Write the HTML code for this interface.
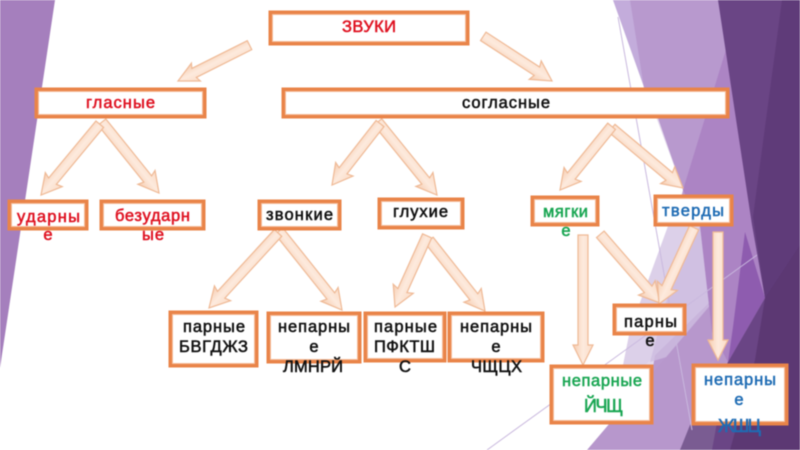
<!DOCTYPE html>
<html lang="ru">
<head>
<meta charset="utf-8">
<title>Звуки</title>
<style>
html,body{margin:0;padding:0;background:#fff;width:800px;height:450px;overflow:hidden}
svg{display:block;filter:blur(.4px)}
text{font-family:"Liberation Sans",sans-serif;font-weight:normal;text-anchor:middle;font-size:16px}
.a{fill:url(#ag);stroke:#efb995;stroke-width:1.2}
.o{fill:#fff;stroke:#e98449;stroke-width:4}
.i{fill:none;stroke:#f5bd9b;stroke-width:1}
.r{fill:#df1322;stroke:#df1322}.g{fill:#1aa653;stroke:#1aa653}.b{fill:#1f6cb4;stroke:#1f6cb4}.k{fill:#111;stroke:#111}
text.m{stroke-width:.55px}
text.l{font-size:16.500px}
text.x{font-size:18px}
</style>
</head>
<body>
<svg width="800" height="450" viewBox="0 0 800 450" xmlns="http://www.w3.org/2000/svg">
<defs>
<linearGradient id="ag" x1="0" y1="0" x2="0" y2="1">
<stop offset="0" stop-color="#fbdcc7"/><stop offset=".5" stop-color="#fdeadd"/><stop offset="1" stop-color="#f6cdb1"/>
</linearGradient>
</defs>
<rect width="800" height="450" fill="#fff"/>
<!-- background -->
<polygon points="0,0 55,0 0,368" fill="#a57fbd"/>
<polygon points="613,0 800,0 800,450 640,450 612,410 632,330 683,190" fill="#e2d7ec"/>
<polygon points="613,0 632,0 645,90" fill="#c3acdb"/>
<polygon points="630,0 720,0 800,450 640,450 670,260 683,190 658,118 644,88" fill="#b899ce"/>
<polygon points="668,226 700,226 712,300 640,370 612,420 630,330" fill="#dcd0e9"/>
<polygon points="700,226 712,332 690,350 650,362 675,270" fill="#cdbce0" opacity=".8"/>
<polygon points="587,450 713,302 712,332 730,362 680,450" fill="#b797cc"/>
<polygon points="683,190 728,43 752,225 765,298 728,362 712,332 700,226" fill="#ac84c4"/>
<polygon points="745,232 765,298 728,362 733,327" fill="#8e5caf"/>
<polygon points="718,0 800,0 800,450 680,450 728,362 765,298 752,225" fill="#6a4585"/>
<polygon points="782,0 800,0 800,450 770,450 790,340 765,298 753,217" fill="#5f3b79"/>
<polygon points="765,298 800,245 800,450 730,450 755,360" fill="#5c3873"/>
<polygon points="690,425 680,450 712,450 722,395" fill="#7a5c92"/>
<g stroke="#c9b8de" stroke-width="1" fill="none">
<line x1="618" y1="17" x2="692" y2="430"/>
<line x1="487" y1="450" x2="757" y2="255"/>
</g>
<!-- arrows -->
<g>
<path class="a" transform="translate(178,81) rotate(153.4)" d="M-80,-5H-18L-20,-10L0,0L-20,10L-18,5H-80Z"/>
<path class="a" transform="translate(552,81) rotate(33)" d="M-82,-5H-18L-20,-11L0,0L-20,11L-18,5H-82Z"/>
<path class="a" transform="translate(159,193) rotate(51.2)" d="M-91,-5H-18L-20,-11L0,0L-20,11L-18,5H-91Z"/>
<path class="a" transform="translate(41,195) rotate(129.7)" d="M-92,-5H-18L-20,-11L0,0L-20,11L-18,5H-92Z"/>
<path class="a" transform="translate(437,195) rotate(51)" d="M-94,-5H-18L-20,-11L0,0L-20,11L-18,5H-94Z"/>
<path class="a" transform="translate(332,185) rotate(128)" d="M-78,-5H-18L-20,-11L0,0L-20,11L-18,5H-78Z"/>
<path class="a" transform="translate(683,188) rotate(40)" d="M-93,-5H-18L-20,-11L0,0L-20,11L-18,5H-93Z"/>
<path class="a" transform="translate(560,190) rotate(129)" d="M-82,-5H-18L-20,-11L0,0L-20,11L-18,5H-82Z"/>
<path class="a" transform="translate(342,310) rotate(51.4)" d="M-101,-5H-18L-20,-11L0,0L-20,11L-18,5H-101Z"/>
<path class="a" transform="translate(209,308) rotate(132.6)" d="M-102,-5H-18L-20,-11L0,0L-20,11L-18,5H-102Z"/>
<path class="a" transform="translate(485,311) rotate(51.7)" d="M-90,-5H-18L-20,-11L0,0L-20,11L-18,5H-90Z"/>
<path class="a" transform="translate(395,307) rotate(114.3)" d="M-78,-5H-18L-20,-11L0,0L-20,11L-18,5H-78Z"/>
<path class="a" transform="translate(583,365) rotate(90)" d="M-130,-5H-20V-10L0,0L-20,10V5H-130Z"/>
<path class="a" transform="translate(660,303) rotate(49)" d="M-91,-5H-18L-20,-11L0,0L-20,11L-18,5H-91Z"/>
<path class="a" transform="translate(659,304) rotate(114.7)" d="M-84,-5H-18L-20,-11L0,0L-20,11L-18,5H-84Z"/>
<path class="a" transform="translate(718,360) rotate(90)" d="M-128,-5H-20V-10L0,0L-20,10V5H-128Z"/>
</g>
<!-- boxes -->
<g>
<rect class="o" x="270.500" y="12.500" width="197" height="31"/><rect class="i" x="272.500" y="14.500" width="193" height="27"/>
<rect class="o" x="36.500" y="89.500" width="168" height="27"/><rect class="i" x="38.500" y="91.500" width="164" height="23"/>
<rect class="o" x="283.500" y="89.500" width="444" height="27"/><rect class="i" x="285.500" y="91.500" width="440" height="23"/>
<rect class="o" x="9.500" y="201.500" width="77" height="27"/><rect class="i" x="11.500" y="203.500" width="73" height="23"/>
<rect class="o" x="101.500" y="201.500" width="102" height="27"/><rect class="i" x="103.500" y="203.500" width="98" height="23"/>
<rect class="o" x="259.500" y="201.500" width="80" height="27"/><rect class="i" x="261.500" y="203.500" width="76" height="23"/>
<rect class="o" x="379.500" y="199.500" width="83" height="28"/><rect class="i" x="381.500" y="201.500" width="79" height="24"/>
<rect class="o" x="532.500" y="197.500" width="65" height="27"/><rect class="i" x="534.500" y="199.500" width="61" height="23"/>
<rect class="o" x="655.500" y="196.500" width="76" height="28"/><rect class="i" x="657.500" y="198.500" width="72" height="24"/>
<rect class="o" x="170.500" y="312.500" width="86" height="53"/><rect class="i" x="172.500" y="314.500" width="82" height="49"/>
<rect class="o" x="268.500" y="313.500" width="91" height="48"/><rect class="i" x="270.500" y="315.500" width="87" height="44"/>
<rect class="o" x="365.500" y="313.500" width="79" height="47"/><rect class="i" x="367.500" y="315.500" width="75" height="43"/>
<rect class="o" x="449.500" y="313.500" width="93" height="47"/><rect class="i" x="451.500" y="315.500" width="89" height="43"/>
<rect class="o" x="614.500" y="305.500" width="70" height="28"/><rect class="i" x="616.500" y="307.500" width="66" height="24"/>
<rect class="o" x="551.500" y="366.500" width="100" height="56"/><rect class="i" x="553.500" y="368.500" width="96" height="52"/>
<rect class="o" x="693.500" y="365.500" width="93" height="58"/><rect class="i" x="695.500" y="367.500" width="89" height="54"/>
</g>
<!-- labels -->
<g>
<text class="r m l" x="369" y="32" textLength="54" lengthAdjust="spacing">ЗВУКИ</text>
<text class="r m l" x="120.500" y="108" textLength="69" lengthAdjust="spacing">гласные</text>
<text class="k m l" x="506" y="108" textLength="88" lengthAdjust="spacing">согласные</text>
<text class="r m l" x="48.500" y="222" textLength="63" lengthAdjust="spacing">ударны</text>
<text class="r m l" x="48" y="240">е</text>
<text class="r m l" x="152.500" y="221" textLength="75" lengthAdjust="spacing">безударн</text>
<text class="r m l" x="153" y="240" textLength="22" lengthAdjust="spacing">ые</text>
<text class="k m l" x="299.500" y="220" textLength="67" lengthAdjust="spacing">звонкие</text>
<text class="k m l" x="420.500" y="217" textLength="55" lengthAdjust="spacing">глухие</text>
<text class="g m l" x="565.500" y="217" textLength="45" lengthAdjust="spacing">мягки</text>
<text class="g m l" x="566" y="236">е</text>
<text class="b m l" x="693" y="216" textLength="62" lengthAdjust="spacing">тверды</text>
<text class="k m l" x="214" y="332" textLength="62" lengthAdjust="spacing">парные</text>
<text class="k m l" x="213.500" y="352" textLength="69" lengthAdjust="spacing">БВГДЖЗ</text>
<text class="k m l" x="314" y="332" textLength="72" lengthAdjust="spacing">непарны</text>
<text class="k m l" x="314" y="352">е</text>
<text class="k m l" x="313" y="372" textLength="60" lengthAdjust="spacing">ЛМНРЙ</text>
<text class="k m l" x="405.500" y="332" textLength="63" lengthAdjust="spacing">парные</text>
<text class="k m l" x="404.500" y="352" textLength="61" lengthAdjust="spacing">ПФКТШ</text>
<text class="k m l" x="405" y="372">С</text>
<text class="k m l" x="496" y="332" textLength="72" lengthAdjust="spacing">непарны</text>
<text class="k m l" x="496" y="352">е</text>
<text class="k m l" x="496.500" y="372" textLength="51" lengthAdjust="spacing">ЧЩЦХ</text>
<text class="k m l" x="650.500" y="327" textLength="53" lengthAdjust="spacing">парны</text>
<text class="k m l" x="650" y="346">е</text>
<text class="g m l" x="602" y="386" textLength="80" lengthAdjust="spacing">непарные</text>
<text class="g m x" x="603.500" y="412" textLength="39" lengthAdjust="spacing">ЙЧЩ</text>
<text class="b m l" x="740" y="385" textLength="72" lengthAdjust="spacing">непарны</text>
<text class="b m l" x="739" y="405">е</text>
<text class="b m x" x="739.500" y="432" textLength="43" lengthAdjust="spacing">ЖШЦ</text>
</g>
</svg>
</body>
</html>
